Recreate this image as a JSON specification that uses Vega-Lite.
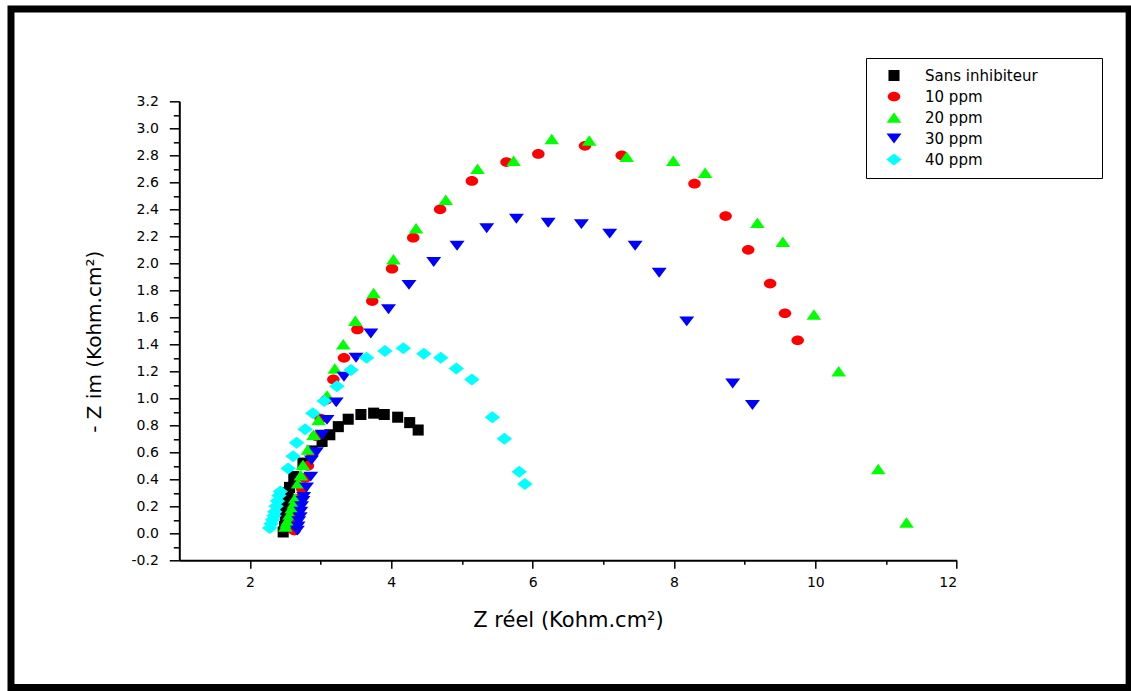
{
  "$schema": "https://vega.github.io/schema/vega-lite/v6.json",
  "width": 777.4,
  "height": 459,
  "autosize": "none",
  "padding": {"left": 179.3, "top": 101.3, "right": 174.3, "bottom": 130.7},
  "background": "white",
  "config": {
    "view": {"stroke": null},
    "font": "DejaVu Sans",
    "axis": {
      "domainColor": "black", "domainWidth": 2, "tickColor": "black", "tickWidth": 1.5,
      "labelColor": "black", "labelFont": "DejaVu Sans", "labelFontSize": 14,
      "titleFont": "DejaVu Sans", "titleFontSize": 20, "titleFontWeight": "normal", "titleColor": "black",
      "grid": false
    }
  },
  "data": {"values": [
    {"s":"Sans inhibiteur","zr":2.47,"zi":0.01},{"s":"Sans inhibiteur","zr":2.49,"zi":0.05},{"s":"Sans inhibiteur","zr":2.50,"zi":0.10},{"s":"Sans inhibiteur","zr":2.51,"zi":0.14},{"s":"Sans inhibiteur","zr":2.51,"zi":0.18},{"s":"Sans inhibiteur","zr":2.52,"zi":0.22},{"s":"Sans inhibiteur","zr":2.53,"zi":0.26},{"s":"Sans inhibiteur","zr":2.54,"zi":0.30},{"s":"Sans inhibiteur","zr":2.56,"zi":0.34},{"s":"Sans inhibiteur","zr":2.62,"zi":0.42},{"s":"Sans inhibiteur","zr":2.75,"zi":0.52},{"s":"Sans inhibiteur","zr":2.88,"zi":0.61},{"s":"Sans inhibiteur","zr":3.02,"zi":0.68},{"s":"Sans inhibiteur","zr":3.13,"zi":0.73},{"s":"Sans inhibiteur","zr":3.25,"zi":0.79},{"s":"Sans inhibiteur","zr":3.39,"zi":0.845},{"s":"Sans inhibiteur","zr":3.57,"zi":0.88},{"s":"Sans inhibiteur","zr":3.75,"zi":0.89},{"s":"Sans inhibiteur","zr":3.90,"zi":0.88},{"s":"Sans inhibiteur","zr":4.09,"zi":0.86},{"s":"Sans inhibiteur","zr":4.26,"zi":0.82},{"s":"Sans inhibiteur","zr":4.38,"zi":0.765},
    {"s":"10 ppm","zr":2.63,"zi":0.02},{"s":"10 ppm","zr":2.64,"zi":0.05},{"s":"10 ppm","zr":2.65,"zi":0.08},{"s":"10 ppm","zr":2.66,"zi":0.11},{"s":"10 ppm","zr":2.67,"zi":0.15},{"s":"10 ppm","zr":2.69,"zi":0.20},{"s":"10 ppm","zr":2.71,"zi":0.26},{"s":"10 ppm","zr":2.74,"zi":0.33},{"s":"10 ppm","zr":2.78,"zi":0.41},{"s":"10 ppm","zr":2.82,"zi":0.50},{"s":"10 ppm","zr":2.87,"zi":0.60},{"s":"10 ppm","zr":2.93,"zi":0.72},{"s":"10 ppm","zr":3.00,"zi":0.85},{"s":"10 ppm","zr":3.08,"zi":0.99},{"s":"10 ppm","zr":3.18,"zi":1.14},{"s":"10 ppm","zr":3.33,"zi":1.30},{"s":"10 ppm","zr":3.52,"zi":1.51},{"s":"10 ppm","zr":3.73,"zi":1.72},{"s":"10 ppm","zr":4.01,"zi":1.96},{"s":"10 ppm","zr":4.31,"zi":2.19},{"s":"10 ppm","zr":4.69,"zi":2.40},{"s":"10 ppm","zr":5.14,"zi":2.61},{"s":"10 ppm","zr":5.63,"zi":2.75},{"s":"10 ppm","zr":6.08,"zi":2.81},{"s":"10 ppm","zr":6.74,"zi":2.87},{"s":"10 ppm","zr":7.26,"zi":2.80},{"s":"10 ppm","zr":8.29,"zi":2.59},{"s":"10 ppm","zr":8.73,"zi":2.35},{"s":"10 ppm","zr":9.05,"zi":2.10},{"s":"10 ppm","zr":9.36,"zi":1.85},{"s":"10 ppm","zr":9.57,"zi":1.63},{"s":"10 ppm","zr":9.75,"zi":1.43},
    {"s":"20 ppm","zr":2.50,"zi":0.05},{"s":"20 ppm","zr":2.52,"zi":0.08},{"s":"20 ppm","zr":2.54,"zi":0.10},{"s":"20 ppm","zr":2.56,"zi":0.14},{"s":"20 ppm","zr":2.59,"zi":0.185},{"s":"20 ppm","zr":2.62,"zi":0.22},{"s":"20 ppm","zr":2.64,"zi":0.26},{"s":"20 ppm","zr":2.68,"zi":0.37},{"s":"20 ppm","zr":2.72,"zi":0.43},{"s":"20 ppm","zr":2.75,"zi":0.506},{"s":"20 ppm","zr":2.82,"zi":0.62},{"s":"20 ppm","zr":2.90,"zi":0.73},{"s":"20 ppm","zr":2.97,"zi":0.84},{"s":"20 ppm","zr":3.09,"zi":1.02},{"s":"20 ppm","zr":3.20,"zi":1.22},{"s":"20 ppm","zr":3.32,"zi":1.40},{"s":"20 ppm","zr":3.49,"zi":1.575},{"s":"20 ppm","zr":3.75,"zi":1.78},{"s":"20 ppm","zr":4.03,"zi":2.03},{"s":"20 ppm","zr":4.35,"zi":2.26},{"s":"20 ppm","zr":4.77,"zi":2.47},{"s":"20 ppm","zr":5.22,"zi":2.70},{"s":"20 ppm","zr":5.73,"zi":2.76},{"s":"20 ppm","zr":6.27,"zi":2.92},{"s":"20 ppm","zr":6.80,"zi":2.91},{"s":"20 ppm","zr":7.33,"zi":2.79},{"s":"20 ppm","zr":7.99,"zi":2.76},{"s":"20 ppm","zr":8.44,"zi":2.67},{"s":"20 ppm","zr":9.18,"zi":2.30},{"s":"20 ppm","zr":9.54,"zi":2.16},{"s":"20 ppm","zr":9.98,"zi":1.62},{"s":"20 ppm","zr":10.33,"zi":1.20},{"s":"20 ppm","zr":10.89,"zi":0.476},{"s":"20 ppm","zr":11.29,"zi":0.08},
    {"s":"30 ppm","zr":2.67,"zi":0.02},{"s":"30 ppm","zr":2.68,"zi":0.05},{"s":"30 ppm","zr":2.69,"zi":0.09},{"s":"30 ppm","zr":2.71,"zi":0.12},{"s":"30 ppm","zr":2.72,"zi":0.16},{"s":"30 ppm","zr":2.73,"zi":0.20},{"s":"30 ppm","zr":2.75,"zi":0.24},{"s":"30 ppm","zr":2.76,"zi":0.27},{"s":"30 ppm","zr":2.80,"zi":0.34},{"s":"30 ppm","zr":2.86,"zi":0.42},{"s":"30 ppm","zr":2.87,"zi":0.54},{"s":"30 ppm","zr":2.94,"zi":0.60},{"s":"30 ppm","zr":3.02,"zi":0.73},{"s":"30 ppm","zr":3.09,"zi":0.84},{"s":"30 ppm","zr":3.22,"zi":0.97},{"s":"30 ppm","zr":3.33,"zi":1.16},{"s":"30 ppm","zr":3.50,"zi":1.30},{"s":"30 ppm","zr":3.71,"zi":1.48},{"s":"30 ppm","zr":3.96,"zi":1.66},{"s":"30 ppm","zr":4.25,"zi":1.84},{"s":"30 ppm","zr":4.60,"zi":2.01},{"s":"30 ppm","zr":4.93,"zi":2.13},{"s":"30 ppm","zr":5.35,"zi":2.26},{"s":"30 ppm","zr":5.77,"zi":2.33},{"s":"30 ppm","zr":6.22,"zi":2.30},{"s":"30 ppm","zr":6.69,"zi":2.29},{"s":"30 ppm","zr":7.09,"zi":2.22},{"s":"30 ppm","zr":7.45,"zi":2.13},{"s":"30 ppm","zr":7.79,"zi":1.93},{"s":"30 ppm","zr":8.18,"zi":1.57},{"s":"30 ppm","zr":8.83,"zi":1.11},{"s":"30 ppm","zr":9.11,"zi":0.95},
    {"s":"40 ppm","zr":2.28,"zi":0.04},{"s":"40 ppm","zr":2.30,"zi":0.07},{"s":"40 ppm","zr":2.32,"zi":0.10},{"s":"40 ppm","zr":2.34,"zi":0.13},{"s":"40 ppm","zr":2.35,"zi":0.16},{"s":"40 ppm","zr":2.37,"zi":0.20},{"s":"40 ppm","zr":2.39,"zi":0.24},{"s":"40 ppm","zr":2.41,"zi":0.28},{"s":"40 ppm","zr":2.43,"zi":0.31},{"s":"40 ppm","zr":2.54,"zi":0.48},{"s":"40 ppm","zr":2.61,"zi":0.57},{"s":"40 ppm","zr":2.66,"zi":0.67},{"s":"40 ppm","zr":2.78,"zi":0.77},{"s":"40 ppm","zr":2.89,"zi":0.89},{"s":"40 ppm","zr":3.05,"zi":0.98},{"s":"40 ppm","zr":3.23,"zi":1.09},{"s":"40 ppm","zr":3.43,"zi":1.21},{"s":"40 ppm","zr":3.65,"zi":1.30},{"s":"40 ppm","zr":3.91,"zi":1.35},{"s":"40 ppm","zr":4.17,"zi":1.37},{"s":"40 ppm","zr":4.46,"zi":1.33},{"s":"40 ppm","zr":4.70,"zi":1.30},{"s":"40 ppm","zr":4.92,"zi":1.22},{"s":"40 ppm","zr":5.14,"zi":1.14},{"s":"40 ppm","zr":5.43,"zi":0.86},{"s":"40 ppm","zr":5.60,"zi":0.70},{"s":"40 ppm","zr":5.81,"zi":0.456},{"s":"40 ppm","zr":5.89,"zi":0.365}
  ]},
  "layer": [
    {
      "data": {"values": [{}]},
      "mark": {"type": "rect", "fill": "transparent", "stroke": "black", "strokeWidth": 7, "clip": false},
      "encoding": {
        "x": {"datum": -1.3815, "type": "quantitative", "scale": {"domain": [1, 12], "nice": false, "zero": false},
          "axis": {"orient": "bottom", "values": [3, 5, 7, 9, 11], "labels": false, "domain": false, "tickSize": 4, "title": null}},
        "x2": {"datum": 14.44},
        "y": {"datum": 3.8837, "type": "quantitative", "scale": {"domain": [-0.2, 3.2], "nice": false, "zero": false},
          "axis": {"orient": "left", "values": [-0.1, 0.1, 0.3, 0.5, 0.7, 0.9, 1.1, 1.3, 1.5, 1.7, 1.9, 2.1, 2.3, 2.5, 2.7, 2.9, 3.1], "labels": false, "domain": false, "tickSize": 6, "title": null}},
        "y2": {"datum": -1.1422}
      }
    },
    {
      "mark": {"type": "point", "filled": true, "opacity": 1, "size": 196, "strokeWidth": 0},
      "encoding": {
        "x": {"field": "zr", "type": "quantitative", "scale": {"domain": [1, 12], "nice": false, "zero": false},
          "axis": {"orient": "bottom", "values": [2, 4, 6, 8, 10, 12], "format": "d", "tickSize": 8, "labelPadding": 7, "title": "Z réel (Kohm.cm²)", "titleFontSize": 21, "titlePadding": 20}},
        "y": {"field": "zi", "type": "quantitative", "scale": {"domain": [-0.2, 3.2], "nice": false, "zero": false},
          "axis": {"orient": "left", "values": [-0.2, 0, 0.2, 0.4, 0.6, 0.8, 1.0, 1.2, 1.4, 1.6, 1.8, 2.0, 2.2, 2.4, 2.6, 2.8, 3.0, 3.2], "format": ".1f", "labelExpr": "replace(datum.label, '\u2212', '-')", "tickSize": 10, "labelPadding": 11, "title": "- Z im (Kohm.cm²)", "titlePadding": 26, "titleY": 240}},
        "color": {"field": "s", "type": "nominal",
          "scale": {"domain": ["Sans inhibiteur", "10 ppm", "20 ppm", "30 ppm", "40 ppm"], "range": ["#000000", "#ff0000", "#00ff00", "#0000ff", "#00ffff"]},
          "legend": {"title": "\u2003", "titleOrient": "right", "titlePadding": 54, "orient": "none", "legendX": 686.7, "legendY": -43.3, "strokeColor": "black", "fillColor": "white", "padding": 10, "symbolOffset": 10.5, "labelOffset": 23.5, "labelFontSize": 15, "labelFont": "DejaVu Sans", "labelColor": "black", "rowPadding": 5, "symbolSize": 196, "symbolStrokeWidth": 0, "symbolOpacity": 1}},
        "shape": {"field": "s", "type": "nominal",
          "scale": {"domain": ["Sans inhibiteur", "10 ppm", "20 ppm", "30 ppm", "40 ppm"],
            "range": ["M-0.79,-0.79H0.79V0.79H-0.79Z", "M-0.89,0A0.89,0.69,0,1,0,0.89,0A0.89,0.69,0,1,0,-0.89,0Z", "M0,-0.75L1.04,0.75H-1.04Z", "M-1.07,-0.71H1.07L0,0.71Z", "M0,-0.86L1.1,0L0,0.86L-1.1,0Z"]}}
      }
    }
  ],
  "resolve": {"axis": {"x": "independent", "y": "independent"}}
}
